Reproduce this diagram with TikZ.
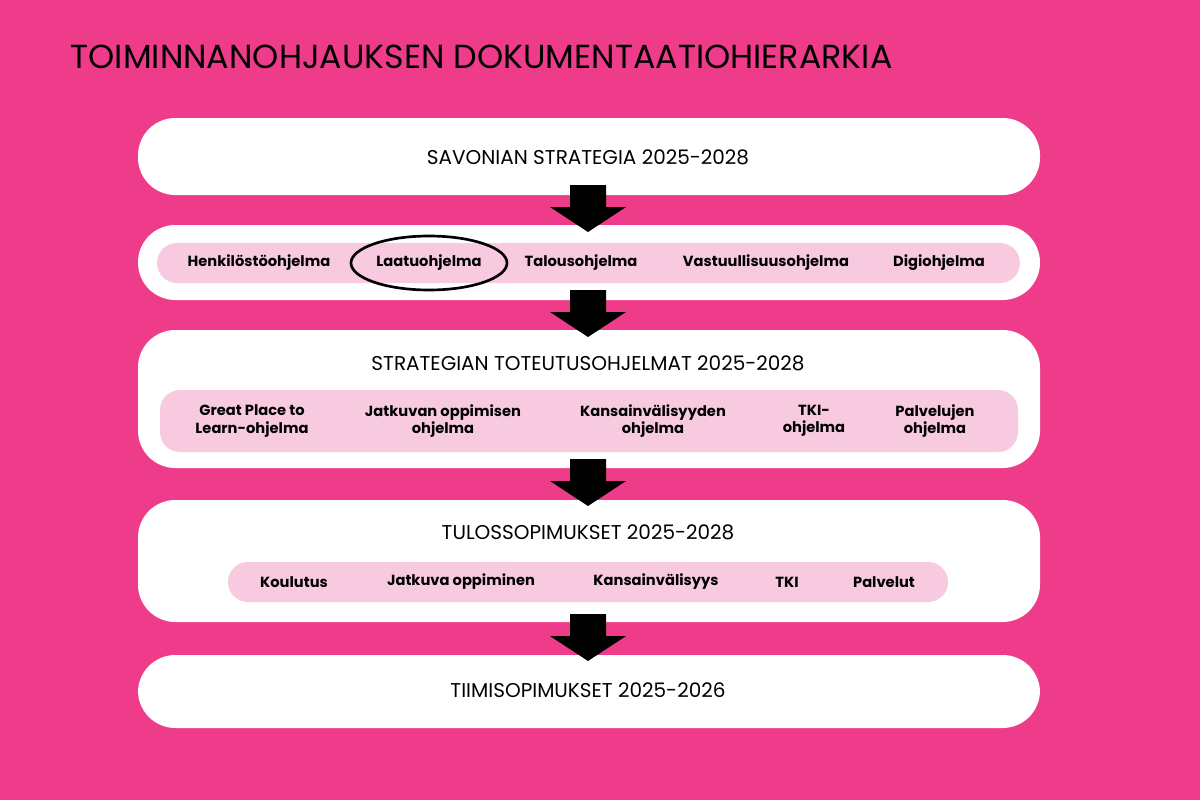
\documentclass[tikz,border=0pt]{standalone}
\usepackage{fontspec}
\setmainfont{Poppins}
\definecolor{bg}{RGB}{238,60,138}
\definecolor{pill}{RGB}{248,202,224}
\begin{document}
\begin{tikzpicture}[x=0.75pt,y=-0.75pt,
 box/.style={fill=white,rounded corners=28pt},
 pillb/.style={fill=pill,rounded corners=15pt},
 head/.style={font=\fontsize{15}{18}\selectfont},
 itm/.style={font=\fontsize{11}{13}\selectfont\bfseries,align=center},
 barrow/.style={fill=black}]
\fill[bg] (0,0) rectangle (1200,800);
\useasboundingbox (0,0) rectangle (1200,800);
\node[anchor=west,font=\fontsize{25}{30}\selectfont] (title) at (66,57) {TOIMINNANOHJAUKSEN DOKUMENTAATIOHIERARKIA};
\fill[box] (138,118) rectangle (1040,195);
\fill[box] (138,225) rectangle (1040,300);
\fill[box] (138,330) rectangle (1040,468);
\fill[box] (138,500) rectangle (1040,622);
\fill[box] (138,655) rectangle (1040,728);
\fill[pillb] (157,243) rectangle (1020,283);
\fill[pillb] (160,390) rectangle (1018,452);
\fill[pillb] (228,562) rectangle (948,602);
\node[head] (s1) at (588,157) {SAVONIAN STRATEGIA 2025-2028};
\node[head] (s3) at (588,363) {STRATEGIAN TOTEUTUSOHJELMAT 2025-2028};
\node[head] (s4) at (588,532) {TULOSSOPIMUKSET 2025-2028};
\node[head] (s5) at (588,690) {TIIMISOPIMUKSET 2025-2026};
\node[itm] (a1) at (259,263) {Henkilöstöohjelma};
\node[itm] (a2) at (429,263) {Laatuohjelma};
\node[itm] (a3) at (581,263) {Talousohjelma};
\node[itm] (a4) at (766,263) {Vastuullisuusohjelma};
\node[itm] (a5) at (939,263) {Digiohjelma};
\draw[line width=2pt] (a2) ellipse (78 and 27);
\node[itm] (b1) at (252,421) {Great Place to\\Learn-ohjelma};
\node[itm] (b2) at (443,421) {Jatkuvan oppimisen\\ohjelma};
\node[itm] (b3) at (653,421) {Kansainvälisyyden\\ohjelma};
\node[itm] (b4) at (814,421) {TKI-\\ohjelma};
\node[itm] (b5) at (935,421) {Palvelujen\\ohjelma};
\node[itm] (c1) at (294,582) {Koulutus};
\node[itm] (c2) at (461,582) {Jatkuva oppiminen};
\node[itm] (c3) at (656,582) {Kansainvälisyys};
\node[itm] (c4) at (787,582) {TKI};
\node[itm] (c5) at (884,582) {Palvelut};
\foreach \t in {185,290,459,614}{
 \fill[barrow] (570,\t) -- (606,\t) -- (606,\t+22) -- (626,\t+22) -- (588,\t+47) -- (550,\t+22) -- (570,\t+22) -- cycle;}
\end{tikzpicture}
\end{document}
